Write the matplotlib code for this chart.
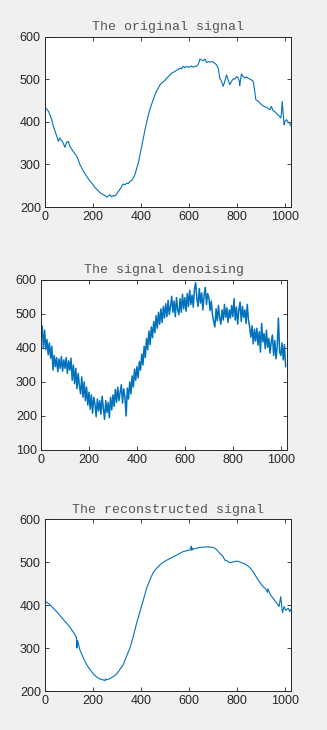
import numpy as np
import matplotlib
matplotlib.use('Agg')
import matplotlib.pyplot as plt

# original signal (sample, value)
orig_pts = [(0, 432), (7, 430), (14, 425), (21, 416), (28, 405), (35, 389), (42, 378),
            (49, 366), (56, 354), (62, 362), (69, 356), (76, 350), (83, 340), (90, 352),
            (97, 354), (104, 342), (111, 336), (118, 330), (125, 325), (132, 319),
            (139, 310), (146, 299), (153, 292), (160, 284), (167, 278), (174, 272),
            (181, 266), (188, 260), (195, 256), (201, 252), (208, 246), (215, 242),
            (222, 238), (229, 234), (236, 231), (243, 229), (250, 227), (257, 223),
            (264, 226), (271, 229), (278, 224), (285, 227), (292, 226), (299, 230),
            (305, 236), (312, 241), (319, 248), (326, 254), (333, 252), (340, 256),
            (347, 255), (354, 260), (361, 262), (368, 268), (375, 276), (382, 290),
            (389, 303), (396, 322), (403, 342), (410, 362), (417, 381), (424, 398),
            (431, 416), (438, 430), (444, 440), (451, 452), (458, 463), (465, 472),
            (472, 479), (479, 486), (486, 491), (493, 494), (500, 497), (507, 502),
            (514, 506), (521, 510), (528, 514), (535, 516), (542, 518), (549, 521),
            (556, 523), (562, 526), (569, 524), (576, 530), (583, 527), (590, 530),
            (597, 528), (604, 529), (611, 531), (618, 528), (625, 530), (632, 530),
            (639, 534), (646, 547), (653, 545), (660, 543), (667, 547), (674, 539),
            (681, 541), (688, 540), (695, 541), (701, 540), (708, 537), (715, 534),
            (722, 526), (729, 502), (736, 495), (743, 483), (750, 495), (757, 510),
            (764, 498), (771, 487), (778, 495), (785, 501), (792, 500), (799, 506),
            (806, 502), (810, 495), (812, 485), (819, 512), (826, 506), (833, 503),
            (840, 505), (847, 502), (854, 500), (861, 498), (868, 495), (875, 470),
            (879, 452), (889, 448), (896, 444), (903, 440), (910, 437), (917, 435),
            (924, 434), (931, 431), (938, 428), (944, 436), (951, 426), (958, 424),
            (965, 420), (972, 416), (979, 412), (983, 409), (986, 420), (989, 448),
            (993, 420), (997, 393), (1000, 400), (1007, 405), (1014, 399), (1021, 396),
            (1024, 391)]

# noisy signal, one reading every 5 samples (middle panel)
noisy_y = [440, 465, 400, 452, 395, 425, 380, 415, 370, 405,
           335, 378, 345, 372, 330, 368, 340, 375, 332, 365,
           340, 372, 325, 362, 335, 370, 305, 350, 295, 340,
           280, 325, 290, 265, 315, 255, 300, 245, 285, 232,
           270, 220, 262, 208, 255, 235, 198, 250, 215, 245,
           205, 258, 222, 190, 245, 210, 240, 195, 255, 218,
           262, 228, 278, 240, 285, 245, 270, 292, 238, 280,
           255, 200, 282, 250, 300, 265, 318, 285, 338, 305,
           345, 312, 360, 335, 382, 350, 405, 372, 428, 395,
           450, 410, 462, 430, 478, 445, 495, 458, 505, 470,
           515, 475, 522, 488, 530, 492, 540, 498, 522, 552,
           505, 538, 492, 548, 512, 498, 545, 505, 558, 515,
           548, 508, 560, 522, 570, 528, 555, 520, 575, 592,
           545, 522, 575, 532, 562, 512, 555, 578, 528, 560,
           548, 510, 538, 498, 478, 462, 515, 480, 525, 488,
           470, 512, 482, 528, 490, 518, 475, 512, 488, 525,
           492, 545, 482, 520, 470, 512, 535, 478, 522, 490,
           512, 472, 528, 482, 462, 432, 465, 412, 455, 420,
           458, 408, 448, 388, 472, 418, 442, 398, 452, 402,
           428, 385, 418, 438, 378, 422, 368, 405, 488, 388,
           378, 415, 365, 410, 345]
noisy_x = list(range(0, 5 * len(noisy_y), 5))

# reconstructed signal (bottom panel)
rec_pts = [(0, 410), (21, 401), (49, 385), (76, 367), (104, 349), (125, 331), (131, 325),
           (133, 300), (136, 318), (146, 295), (160, 277), (174, 261), (188, 250),
           (201, 240), (215, 233), (229, 228), (243, 226), (250, 224), (252, 228),
           (257, 226), (271, 229), (285, 234), (299, 240), (312, 250), (326, 261),
           (340, 281), (354, 300), (368, 327), (382, 358), (396, 385), (410, 412),
           (424, 440), (438, 460), (451, 476), (465, 486), (479, 494), (493, 500),
           (507, 505), (521, 509), (535, 513), (549, 517), (562, 521), (576, 525),
           (590, 527), (604, 529), (610, 538), (612, 528), (614, 533), (618, 531),
           (632, 533), (646, 535), (674, 536), (701, 535), (715, 530), (729, 521),
           (743, 513), (750, 505), (757, 504), (771, 499), (785, 501), (799, 503),
           (812, 501), (826, 498), (840, 494), (854, 488), (868, 478), (882, 465),
           (896, 453), (910, 443), (924, 436), (927, 430), (930, 438), (938, 426),
           (951, 416), (965, 406), (976, 397), (983, 420), (990, 383), (997, 397),
           (1004, 388), (1014, 393), (1021, 385), (1024, 390)]

titles = ['The original signal', 'The signal denoising', 'The reconstructed signal']
yticks = [[200, 300, 400, 500, 600], [100, 200, 300, 400, 500, 600], [200, 300, 400, 500, 600]]
xticks = [0, 200, 400, 600, 800, 1000]

orig_x, orig_y = zip(*orig_pts)
rec_x, rec_y = zip(*rec_pts)

plt.rcParams['font.family'] = ['Liberation Sans', 'DejaVu Sans']
fig = plt.figure(figsize=(3.27, 7.30), dpi=100, facecolor='#f0f0f0')

boxes = [[0.1376, 0.7164, 0.751, 0.2336],
         [0.1254, 0.3836, 0.751, 0.2329],
         [0.1376, 0.0534, 0.751, 0.2350]]
series = [(orig_x, orig_y, 0.8), (noisy_x, noisy_y, 1.1), (rec_x, rec_y, 0.8)]

for i in range(3):
    ax = fig.add_axes(boxes[i])
    x, y, lw = series[i]
    ax.plot(x, y, color='#0072BD', lw=lw)
    ax.set_xlim(0, 1024)
    ax.set_ylim(yticks[i][0], yticks[i][-1])
    ax.set_xticks(xticks)
    ax.set_yticks(yticks[i])
    ax.tick_params(direction='in', top=True, right=True, length=3, width=0.6,
                   labelsize=9, colors='#262626', pad=3)
    for s in ax.spines.values():
        s.set_linewidth(0.7)
        s.set_color('#262626')
    ax.set_title(titles[i], family='Liberation Mono', fontsize=9.5,
                 color='#555555', pad=5)

fig.savefig('out.png', dpi=100, facecolor=fig.get_facecolor())
